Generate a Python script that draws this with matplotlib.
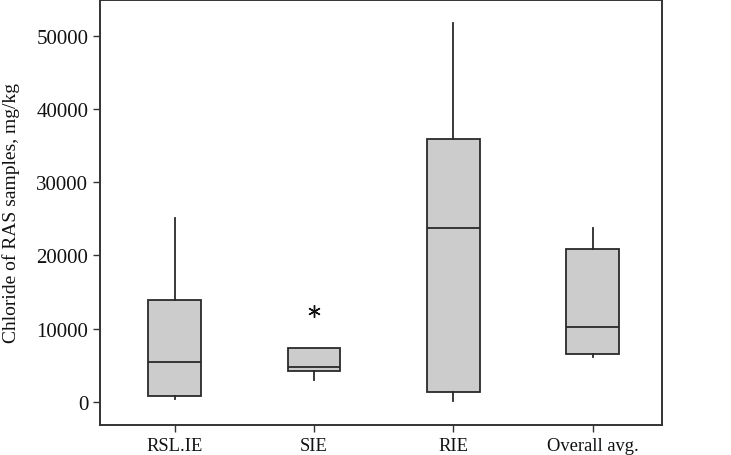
import matplotlib
matplotlib.use("Agg")
import matplotlib.pyplot as plt

plt.rcParams['font.family'] = ['Liberation Serif', 'DejaVu Serif']

categories = ["RSL.IE", "SIE", "RIE", "Overall avg."]
whislo = [370, 2950, 50, 6070]
q1 = [740, 4200, 1280, 6600]
med = [5460, 4750, 23800, 10200]
q3 = [13900, 7300, 35900, 20900]
whishi = [25050, 7300, 51700, 23800]
outliers = [[], [12350], [], []]

stats = []
for i in range(len(categories)):
    stats.append({'label': categories[i], 'whislo': whislo[i], 'q1': q1[i],
                  'med': med[i], 'q3': q3[i], 'whishi': whishi[i],
                  'fliers': outliers[i]})

fig = plt.figure(figsize=(7.31, 4.56), dpi=100)
ax = fig.add_axes([0.1368, 0.066, 0.769, 0.932])

edge = '#2a2a2a'
ax.bxp(stats, widths=0.38, patch_artist=True, showcaps=False,
       boxprops=dict(facecolor='#cccccc', edgecolor=edge, linewidth=1.3),
       medianprops=dict(color=edge, linewidth=1.3),
       whiskerprops=dict(color=edge, linewidth=1.3),
       flierprops=dict(marker=(6, 2, 0), markersize=9, markeredgecolor='#111111',
                       markeredgewidth=1.0, markerfacecolor='none'))

ax.set_xlim(0.463, 4.5)
ax.set_ylim(-3150, 54900)
ax.set_yticks([0, 10000, 20000, 30000, 40000, 50000])
ax.set_ylabel("Chloride of RAS samples, mg/kg", fontsize=14, color='#111111', labelpad=12)
ax.tick_params(axis='both', direction='out', length=5, width=1, colors='#333333',
               labelcolor='#111111')
ax.tick_params(axis='y', labelsize=15)
ax.tick_params(axis='x', labelsize=13.3)
for s in ax.spines.values():
    s.set_linewidth(1.4)
    s.set_color('#333333')

fig.savefig("out.png", dpi=100)
